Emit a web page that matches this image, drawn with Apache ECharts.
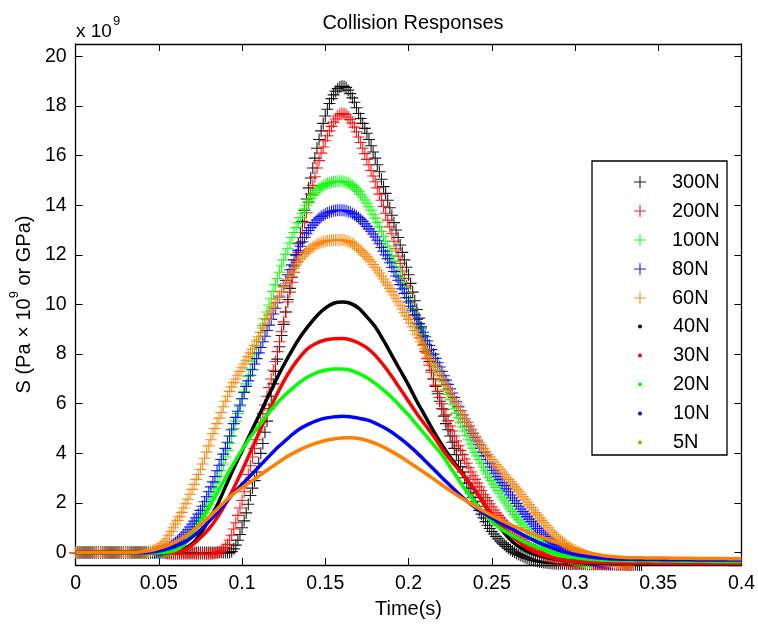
<!DOCTYPE html>
<html><head><meta charset="utf-8">
<script src="https://cdn.jsdelivr.net/npm/echarts@6/dist/echarts.min.js"></script>
<style>html,body{margin:0;padding:0;background:#fff}#c{width:758px;height:624px}</style>
</head><body><div id="c"></div>
<script>
// time samples (s) for the "+" series: 0 ... 0.34 every 0.00125 s
const tPlus = [0,0.00125,0.0025,0.00375,0.005,0.00625,0.0075,0.00875,0.01,0.01125,0.0125,0.01375,0.015,0.01625,0.0175,0.01875,0.02,0.02125,0.0225,0.02375,0.025,0.02625,0.0275,0.02875,0.03,0.03125,0.0325,0.03375,0.035,0.03625,0.0375,0.03875,0.04,0.04125,0.0425,0.04375,0.045,0.04625,0.0475,0.04875,0.05,0.05125,0.0525,0.05375,0.055,0.05625,0.0575,0.05875,0.06,0.06125,0.0625,0.06375,0.065,0.06625,0.0675,0.06875,0.07,0.07125,0.0725,0.07375,0.075,0.07625,0.0775,0.07875,0.08,0.08125,0.0825,0.08375,0.085,0.08625,0.0875,0.08875,0.09,0.09125,0.0925,0.09375,0.095,0.09625,0.0975,0.09875,0.1,0.10125,0.1025,0.10375,0.105,0.10625,0.1075,0.10875,0.11,0.11125,0.1125,0.11375,0.115,0.11625,0.1175,0.11875,0.12,0.12125,0.1225,0.12375,0.125,0.12625,0.1275,0.12875,0.13,0.13125,0.1325,0.13375,0.135,0.13625,0.1375,0.13875,0.14,0.14125,0.1425,0.14375,0.145,0.14625,0.1475,0.14875,0.15,0.15125,0.1525,0.15375,0.155,0.15625,0.1575,0.15875,0.16,0.16125,0.1625,0.16375,0.165,0.16625,0.1675,0.16875,0.17,0.17125,0.1725,0.17375,0.175,0.17625,0.1775,0.17875,0.18,0.18125,0.1825,0.18375,0.185,0.18625,0.1875,0.18875,0.19,0.19125,0.1925,0.19375,0.195,0.19625,0.1975,0.19875,0.2,0.20125,0.2025,0.20375,0.205,0.20625,0.2075,0.20875,0.21,0.21125,0.2125,0.21375,0.215,0.21625,0.2175,0.21875,0.22,0.22125,0.2225,0.22375,0.225,0.22625,0.2275,0.22875,0.23,0.23125,0.2325,0.23375,0.235,0.23625,0.2375,0.23875,0.24,0.24125,0.2425,0.24375,0.245,0.24625,0.2475,0.24875,0.25,0.25125,0.2525,0.25375,0.255,0.25625,0.2575,0.25875,0.26,0.26125,0.2625,0.26375,0.265,0.26625,0.2675,0.26875,0.27,0.27125,0.2725,0.27375,0.275,0.27625,0.2775,0.27875,0.28,0.28125,0.2825,0.28375,0.285,0.28625,0.2875,0.28875,0.29,0.29125,0.2925,0.29375,0.295,0.29625,0.2975,0.29875,0.3,0.30125,0.3025,0.30375,0.305,0.30625,0.3075,0.30875,0.31,0.31125,0.3125,0.31375,0.315,0.31625,0.3175,0.31875,0.32,0.32125,0.3225,0.32375,0.325,0.32625,0.3275,0.32875,0.33,0.33125,0.3325,0.33375,0.335,0.33625,0.3375,0.33875,0.34];
// time samples (s) for the "." series: 0 ... 0.4 every 0.005 s
const tDot = [0,0.005,0.01,0.015,0.02,0.025,0.03,0.035,0.04,0.045,0.05,0.055,0.06,0.065,0.07,0.075,0.08,0.085,0.09,0.095,0.1,0.105,0.11,0.115,0.12,0.125,0.13,0.135,0.14,0.145,0.15,0.155,0.16,0.165,0.17,0.175,0.18,0.185,0.19,0.195,0.2,0.205,0.21,0.215,0.22,0.225,0.23,0.235,0.24,0.245,0.25,0.255,0.26,0.265,0.27,0.275,0.28,0.285,0.29,0.295,0.3,0.305,0.31,0.315,0.32,0.325,0.33,0.335,0.34,0.345,0.35,0.355,0.36,0.365,0.37,0.375,0.38,0.385,0.39,0.395,0.4];

// stress (x 1e9 Pa), "+" series on tPlus
const s300N = [0,0,0,0,0,0,0,0,0,0, 0,0,0,0,0,0,0,0,0,0, 0,0,0,0,0,0,0,0,0,0, 0,0,0,0,0,0,0,0,0,0,
 0,0,0,0,0,0,0,0,0,0, 0,0,0,0,0,0,0,0,0,0, 0,0,0,0,0,0,0,0,0,0, 0,0,0,0,0,
 0.04,0.15,
 0.3,0.5,0.73,1.0,1.28,1.6,1.95,2.3,2.6,2.9,3.25,3.6,4.0,4.4,4.85,5.3,5.8,6.3,6.8,7.3,
 7.8,8.3,8.75,9.2,9.7,10.2,10.65,11.1,11.55,12.0,12.45,12.9,13.35,13.8,14.25,14.7,15.1,15.5,15.9,16.3,
 16.65,17.0,17.3,17.6,17.87,18.1,18.3,18.45,18.6,18.7,18.77,18.8,
 18.79,18.75,18.64,18.5,18.33,18.15,17.93,17.7,17.5,17.3,17.1,16.9,16.65,16.4,16.15,15.9,15.63,15.35,15.05,14.75,
 14.48,14.2,13.9,13.6,13.3,13.0,12.7,12.4,12.1,11.8,11.5,11.2,10.85,10.5,10.15,9.8,9.45,9.1,8.75,8.4,
 8.05,7.7,7.35,7.0,6.7,6.4,6.1,5.8,5.5,5.2,4.95,4.7,4.45,4.2,3.95,3.7,3.47,3.25,3.02,2.8,
 2.6,2.4,2.22,2.05,1.87,1.7,1.55,1.4,1.25,1.1,0.97,0.85,0.75,0.65,0.56,0.47,0.39,0.32,0.25,0.18,
 0.12,0.06,0.01,-0.04,-0.08,-0.12,-0.16,-0.2,-0.23,-0.26,-0.29,-0.31,-0.33,-0.35,-0.37,-0.38,-0.4,-0.41,-0.42,-0.43,
 -0.44,-0.44,
 -0.45,-0.45,-0.45,-0.45,-0.45,-0.45,-0.46,-0.46,-0.46,-0.46,-0.46,-0.46,-0.46,-0.46,
 -0.47,-0.47,-0.47,-0.47,-0.47,-0.47,-0.47,-0.47,-0.47,-0.47,-0.48,-0.48,-0.48,-0.48,-0.48,-0.48,-0.48,-0.48,-0.48,-0.48,
 -0.49,-0.49,-0.49,-0.49,-0.49,-0.49,-0.5,-0.5];
const s200N = [0,0,0,0,0,0,0,0,0,0, 0,0,0,0,0,0,0,0,0,0, 0,0,0,0,0,0,0,0,0,0, 0,0,0,0,0,0,0,0,0,0, 0,0,0,
 -0.02,
 -0.05,-0.05,-0.05,-0.05,-0.05,-0.05,-0.05,-0.05,-0.05,-0.05,-0.05,-0.05,-0.05,-0.05,-0.05,-0.05,-0.05,-0.05,-0.05,-0.05,-0.05,-0.05,-0.05,
 -0.03,0.0,
 0.02,0.05,0.11,0.2,0.33,0.5,0.7,0.95,1.2,1.5,1.8,2.1,2.45,2.8,3.15,3.5,3.85,4.2,4.55,4.9,
 5.25,5.6,5.95,6.3,6.65,7.0,7.35,7.7,8.1,8.5,8.9,9.3,9.7,10.1,10.5,10.9,11.3,11.7,12.1,12.5,
 12.9,13.3,13.7,14.1,14.45,14.8,15.15,15.5,15.8,16.1,16.35,16.6,16.8,17.0,17.18,17.35,17.48,17.6,17.67,17.7,
 17.69,17.65,17.56,17.45,17.31,17.15,16.96,16.75,16.53,16.3,16.08,15.85,15.63,15.4,15.18,14.95,14.7,14.45,14.2,13.95,
 13.68,13.4,13.13,12.85,12.55,12.25,11.95,11.65,11.35,11.05,10.75,10.45,10.15,9.85,9.55,9.25,8.95,8.65,8.37,8.1,
 7.82,7.55,7.27,7.0,6.75,6.5,6.25,6.0,5.77,5.55,5.32,5.1,4.9,4.7,4.5,4.3,4.12,3.95,3.77,3.6,
 3.42,3.25,3.1,2.95,2.8,2.65,2.5,2.35,2.22,2.1,1.97,1.85,1.72,1.6,1.5,1.4,1.3,1.2,1.1,1.0,
 0.91,0.83,0.75,0.67,0.6,0.52,0.45,0.38,0.32,0.26,0.2,0.15,0.1,0.05,0.0,-0.04,-0.08,-0.12,-0.16,-0.19,
 -0.22,-0.25,-0.28,-0.3,-0.32,-0.34,-0.36,-0.37,-0.39,-0.4,-0.41,-0.42,
 -0.43,-0.43,-0.44,-0.44,-0.45,-0.45,-0.45,-0.45,-0.46,-0.46,-0.46,-0.46,-0.47,-0.47,-0.47,-0.47,-0.47,-0.47,
 -0.48,-0.48,-0.48,-0.48,-0.48,-0.48,-0.49,-0.49,-0.49,-0.49];
const s100N = [0,0,0,0,0,0,0,0,0,0, 0,0,0,0,0,0,0,0,0,0, 0,0,0,0,0,0,0,0,0,0, 0,0,0,0,0,0,0,0,0,0, 0,
 0.01,0.02,0.04,0.06,0.09,0.12,0.16,0.2,0.26,0.32,0.39,0.46,0.54,0.62,0.72,0.82,0.93,1.05,1.17,1.3,
 1.45,1.6,1.77,1.95,2.15,2.35,2.57,2.8,3.05,3.3,3.57,3.85,4.12,4.4,4.7,5.0,5.3,5.6,5.9,6.2,
 6.5,6.8,7.1,7.4,7.7,8.0,8.3,8.6,8.88,9.15,9.43,9.7,9.98,10.25,10.53,10.8,11.05,11.3,11.55,11.8,
 12.03,12.25,12.48,12.7,12.9,13.1,13.3,13.5,13.68,13.85,14.0,14.15,14.28,14.4,14.5,14.6,14.68,14.75,14.8,14.85,
 14.88,14.9,14.93,14.95,14.96,14.97,14.97,14.97,
 14.95,14.93,14.9,14.85,14.79,14.72,14.64,14.55,14.44,14.33,14.21,14.08,13.94,13.8,13.64,13.48,13.31,13.13,12.94,12.75,
 12.55,12.35,12.15,11.95,11.74,11.52,11.31,11.1,10.89,10.68,10.47,10.25,10.04,9.82,9.61,9.4,9.19,8.98,8.77,8.56,
 8.35,8.15,7.95,7.75,7.55,7.35,7.15,6.95,6.75,6.56,6.37,6.18,5.99,5.8,5.61,5.43,5.25,5.07,4.9,4.72,
 4.55,4.38,4.21,4.05,3.9,3.75,3.6,3.45,3.31,3.17,3.03,2.9,2.76,2.63,2.5,2.37,2.24,2.12,2.0,1.88,
 1.76,1.65,1.54,1.43,1.32,1.22,1.12,1.02,0.93,0.84,0.75,0.67,0.59,0.52,0.45,0.38,0.31,0.25,0.19,0.14,
 0.09,0.04,0.0,-0.05,-0.09,-0.13,-0.17,-0.2,-0.23,-0.26,-0.29,-0.31,-0.33,-0.35,-0.37,-0.39,-0.41,-0.42,-0.43,-0.44];
const s80N = [0,0,0,0,0,0,0,0,0,0, 0,0,0,0,0,0,0,0,0,0, 0,0,0,0,0,0,0,0,0,0, 0,0,0,0,0,0,0,0,0,
 0.02,0.05,
 0.07,0.1,0.14,0.18,0.23,0.28,0.34,0.4,0.47,0.55,0.63,0.72,0.82,0.92,1.03,1.15,1.27,1.4,1.55,1.7,
 1.87,2.05,2.25,2.45,2.65,2.85,3.07,3.3,3.52,3.75,3.97,4.2,4.45,4.7,4.95,5.2,5.45,5.7,5.95,6.2,
 6.45,6.7,6.92,7.15,7.37,7.6,7.82,8.05,8.27,8.5,8.72,8.95,9.17,9.4,9.62,9.85,10.07,10.3,10.52,10.75,
 10.97,11.2,11.4,11.6,11.8,12.0,12.18,12.35,12.53,12.7,12.85,12.98,13.1,13.2,13.3,13.4,13.48,13.55,13.6,13.65,
 13.69,13.72,13.75,13.78,13.79,13.8,13.8,13.8,
 13.79,13.78,13.75,13.72,13.67,13.62,13.56,13.5,13.43,13.35,13.25,13.15,13.05,12.95,12.84,12.72,12.59,12.45,12.3,12.15,
 12.0,11.85,11.68,11.5,11.33,11.15,10.98,10.8,10.63,10.45,10.28,10.1,9.93,9.75,9.58,9.4,9.23,9.05,8.88,8.7,
 8.53,8.35,8.18,8.0,7.83,7.65,7.48,7.3,7.13,6.95,6.78,6.6,6.43,6.25,6.08,5.9,5.72,5.55,5.4,5.25,
 5.1,4.95,4.8,4.65,4.5,4.35,4.2,4.05,3.9,3.75,3.6,3.45,3.32,3.2,3.07,2.95,2.82,2.7,2.57,2.45,
 2.32,2.2,2.09,1.98,1.87,1.76,1.65,1.55,1.45,1.35,1.25,1.15,1.06,0.97,0.88,0.8,0.72,0.65,0.57,0.5,
 0.44,0.38,0.32,0.27,0.22,0.17,0.12,0.08,0.04,0.0,-0.04,-0.08,-0.11,-0.15,-0.18,-0.21,-0.24,-0.26,-0.29,-0.31,
 -0.33,-0.35,-0.37,-0.38,-0.4,-0.41,-0.42,-0.43,-0.44,-0.45];
const s60N = [0,0,0,0,0,0,0,0,0,0, 0,0,0,0,0,0,0,0,0,0, 0,0,0,0,0,0,0,0,0,0, 0,0,0,0,0,
 0.02,0.05,
 0.07,0.1,0.15,0.2,0.27,0.35,0.45,0.55,0.7,0.85,1.0,1.15,1.3,1.45,1.62,1.8,1.97,2.15,2.35,2.55,
 2.75,2.95,3.15,3.35,3.57,3.8,4.05,4.3,4.55,4.8,5.0,5.2,5.42,5.65,5.88,6.1,6.3,6.5,6.68,6.85,
 7.0,7.15,7.3,7.45,7.6,7.75,7.9,8.05,8.2,8.35,8.52,8.7,8.87,9.05,9.22,9.4,9.57,9.75,9.9,10.05,
 10.2,10.35,10.52,10.7,10.85,11.0,11.15,11.3,11.45,11.6,11.73,11.85,11.95,12.05,12.13,12.2,12.26,12.32,12.37,12.42,
 12.46,12.5,12.53,12.55,12.57,12.58,12.59,12.6,12.6,12.6,12.6,12.6,
 12.59,12.57,12.54,12.5,12.45,12.4,12.33,12.25,12.18,12.1,12.01,11.92,11.82,11.72,11.61,11.5,11.39,11.27,11.15,11.03,
 10.9,10.78,10.65,10.52,10.38,10.25,10.11,9.97,9.82,9.68,9.54,9.4,9.25,9.1,8.95,8.8,8.65,8.5,8.35,8.2,
 8.05,7.9,7.75,7.6,7.46,7.32,7.17,7.03,6.88,6.74,6.6,6.45,6.3,6.15,6.0,5.85,5.7,5.55,5.4,5.25,
 5.11,4.97,4.83,4.7,4.57,4.45,4.32,4.2,4.08,3.96,3.85,3.75,3.65,3.55,3.45,3.35,3.25,3.15,3.05,2.95,
 2.85,2.75,2.65,2.55,2.45,2.35,2.25,2.15,2.04,1.93,1.82,1.72,1.61,1.51,1.4,1.3,1.2,1.1,1.0,0.9,
 0.81,0.72,0.64,0.56,0.49,0.42,0.36,0.3,0.24,0.19,0.14,0.1,0.05,0.01,-0.03,-0.07,-0.1,-0.14,-0.17,-0.2,
 -0.22,-0.25,-0.27,-0.29,-0.31,-0.33,-0.34,-0.36,-0.37,-0.39,-0.4,-0.41,-0.42,-0.43,-0.44,-0.45,-0.46,-0.47,-0.47,-0.48];

// "." series on tDot
const s40N = [0,0,0,0,0,0,0,0,0,0, 0,0,
 0.05,0.15,0.35,0.75,1.3,1.9,2.65,3.4,
 4.1,4.8,5.5,6.2,6.9,7.55,8.15,8.7,9.15,9.55,
 9.85,10.05,10.1,10.05,9.85,9.5,9.1,8.55,7.95,7.35,
 6.75,6.1,5.5,4.9,4.35,3.85,3.4,2.95,2.5,2.0,
 1.45,1.0,0.6,0.3,0.1,-0.05,-0.15,-0.22,-0.28,-0.33,
 -0.37,-0.4,-0.42,
 -0.43,-0.43,-0.44,-0.44,-0.44,-0.45,-0.45,-0.45,-0.46,-0.46,-0.46,-0.46,-0.47,-0.47,-0.47,-0.47,-0.48,-0.48];
const s30N = [0,0,0,0,0,0,0,0,0,0, 0,0,
 0.02,0.1,0.3,0.6,0.95,1.4,1.95,2.6,
 3.3,4.05,4.8,5.55,6.25,6.9,7.45,7.9,8.25,8.45,
 8.57,8.62,8.63,8.58,8.45,8.25,7.95,7.55,7.1,6.6,
 6.1,5.6,5.15,4.7,4.2,3.75,3.35,2.95,2.5,2.0,
 1.55,1.15,0.8,0.5,0.25,0.05,-0.08,-0.18,-0.26,-0.32,
 -0.36,-0.39,-0.4,
 -0.41,-0.41,-0.41,-0.42,-0.42,-0.42,-0.42,-0.43,-0.43,-0.43,-0.43,-0.43,-0.44,-0.44,-0.44,-0.44,-0.44,-0.44];
const s20N = [0,0,0,0,0,0,0,0,0,0, 0,
 0.02,0.1,0.3,0.75,1.25,1.8,2.4,3.0,3.6,
 4.15,4.65,5.1,5.55,5.95,6.3,6.6,6.88,7.1,7.25,
 7.35,7.4,7.4,7.35,7.22,7.05,6.82,6.55,6.25,5.9,
 5.55,5.15,4.75,4.35,3.95,3.45,2.95,2.45,2.0,1.6,
 1.25,0.98,0.78,0.6,0.42,0.28,0.15,0.04,-0.06,-0.14,
 -0.2,-0.25,-0.28,
 -0.3,-0.31,-0.32,-0.32,-0.33,-0.33,-0.33,-0.34,-0.34,-0.34,-0.35,-0.35,-0.35,-0.35,-0.36,-0.36,-0.36,-0.36];
const s10N = [0,0,0,0,0,0,0,0,0,
 0.02,0.06,0.14,0.25,0.4,0.62,0.9,1.25,1.6,2.0,2.4,
 2.75,3.1,3.45,3.8,4.15,4.45,4.75,5.0,5.18,5.32,
 5.42,5.47,5.5,5.48,5.42,5.35,5.22,5.05,4.85,4.6,
 4.33,4.03,3.7,3.37,3.03,2.7,2.38,2.08,1.82,1.6,
 1.4,1.22,1.03,0.85,0.67,0.5,0.35,0.22,0.1,0.0,
 -0.08,-0.14,-0.19,-0.22,-0.25,
 -0.26,-0.27,-0.27,-0.28,-0.28,-0.28,-0.29,-0.29,-0.29,-0.29,-0.3,-0.3,-0.3,-0.3,-0.3,-0.3];
const s5N = [0,0,0,0,0,0,0,0,
 0.03,0.08,0.17,0.28,0.43,0.62,0.85,1.12,1.42,1.75,2.08,2.38,
 2.62,2.85,3.08,3.32,3.55,3.78,3.98,4.15,4.3,4.42,
 4.52,4.58,4.62,4.63,4.6,4.52,4.4,4.25,4.07,3.87,
 3.65,3.43,3.2,2.97,2.73,2.5,2.28,2.07,1.87,1.68,
 1.5,1.33,1.17,1.02,0.88,0.75,0.62,0.5,0.38,0.27,
 0.16,0.06,-0.03,-0.1,-0.15,-0.18,-0.2,
 -0.21,-0.21,-0.22,-0.22,-0.22,-0.23,-0.23,-0.23,-0.24,-0.24,-0.24,-0.24,-0.25,-0.25];

const plusNames = ['300N','200N','100N','80N','60N'];
const dotNames = ['40N','30N','20N','10N','5N'];
const colors = ['#000000','#ff0000','#00ff00','#0000ff','#ff8000'];
const yTicks = [0,2,4,6,8,10,12,14,16,18,20];

const plusData = [s300N, s200N, s100N, s80N, s60N];
const dotData = [s40N, s30N, s20N, s10N, s5N];
const FONT = "'Liberation Sans', Arial, Helvetica, sans-serif";
const PLUS = 'path://M5,0H6V5H11V6H6V11H5V6H0V5H5Z';

function pairs(ts, vs) {
  const out = [];
  for (let i = 0; i < vs.length && i < ts.length; i++) out.push([ts[i], vs[i]]);
  return out;
}

const series = [];
plusNames.forEach((n, k) => series.push({
  type: 'scatter', name: n,
  data: pairs(tPlus, plusData[k]),
  symbol: PLUS, symbolSize: 12,
  itemStyle: { color: colors[k], opacity: 0.9 },
  clip: false, silent: true, animation: false, large: false
}));
dotNames.forEach((n, k) => series.push({
  type: 'line', name: n,
  data: pairs(tDot, dotData[k]),
  showSymbol: false, symbol: 'circle', smooth: 0.25,
  lineStyle: { color: colors[k], width: 3.5 },
  itemStyle: { color: colors[k] },
  silent: true, animation: false
}));

const axisLine = { show: true, onZero: false, lineStyle: { color: '#000', width: 1.3 } };
const tick = { show: true, inside: true, length: 7, lineStyle: { color: '#000', width: 1 } };

const chart = echarts.init(document.getElementById('c'), null, { renderer: 'canvas' });
chart.setOption({
  animation: false,
  backgroundColor: '#fff',
  title: [
    { text: 'Collision Responses', left: 408, top: 8, textAlign: 'center',
      textStyle: { fontFamily: FONT, fontSize: 20, fontWeight: 'normal', color: '#000' } },
    { text: '{a|x 10}{s|9}', left: 71, top: 10,
      textStyle: { fontWeight: 'normal', rich: {
        a: { fontFamily: FONT, fontSize: 19, fontWeight: 'normal', color: '#000', lineHeight: 26, verticalAlign: 'bottom' },
        s: { fontFamily: FONT, fontSize: 13, fontWeight: 'normal', color: '#000', lineHeight: 26, verticalAlign: 'top', padding: [0,0,0,1] } } } }
  ],
  grid: { left: 75, right: 15.5, top: 44, bottom: 53.5, containLabel: false },
  xAxis: [
    { type: 'value', position: 'bottom', min: 0, max: 0.4, interval: 0.05,
      axisLine: axisLine, axisTick: tick, splitLine: { show: false },
      axisLabel: { fontFamily: FONT, fontSize: 19.5, color: '#000', margin: 9 },
      name: 'Time(s)', nameLocation: 'middle', nameGap: 34,
      nameTextStyle: { fontFamily: FONT, fontSize: 20, color: '#000' } },
    { type: 'value', position: 'top', min: 0, max: 0.4, interval: 0.05,
      axisLine: axisLine, axisTick: tick, splitLine: { show: false }, axisLabel: { show: false } }
  ],
  yAxis: [
    { type: 'value', position: 'left', min: -0.5, max: 20.5,
      axisLine: axisLine, axisTick: Object.assign({}, tick, { customValues: yTicks }),
      splitLine: { show: false },
      axisLabel: { customValues: yTicks, fontFamily: FONT, fontSize: 19.5, color: '#000', margin: 9 },
      name: '{a|S (Pa × 10}{s|9}{a| or GPa)}', nameLocation: 'middle', nameRotate: 90, nameGap: 33,
      nameTextStyle: { rich: {
        a: { fontFamily: FONT, fontSize: 20, color: '#000', lineHeight: 26, verticalAlign: 'bottom' },
        s: { fontFamily: FONT, fontSize: 13, color: '#000', lineHeight: 26, verticalAlign: 'top' } } } },
    { type: 'value', position: 'right', min: -0.5, max: 20.5,
      axisLine: axisLine, axisTick: Object.assign({}, tick, { customValues: yTicks }),
      splitLine: { show: false }, axisLabel: { show: false, customValues: yTicks } }
  ],
  legend: [
    { data: plusNames.map(n => ({ name: n, icon: PLUS })), orient: 'vertical',
      left: 629, top: 167, itemWidth: 12, itemHeight: 12, itemGap: 9, selectedMode: false,
      textStyle: { fontFamily: FONT, fontSize: 20, color: '#000', lineHeight: 20, padding: [0, 0, 0, 21] } },
    { data: dotNames.map(n => ({ name: n, icon: 'circle' })), orient: 'vertical',
      left: 633, top: 311.5, itemWidth: 4, itemHeight: 4, itemGap: 9, selectedMode: false,
      textStyle: { fontFamily: FONT, fontSize: 20, color: '#000', lineHeight: 20, padding: [0, 0, 0, 26] } }
  ],
  graphic: [
    { type: 'rect', z: 3, shape: { x: 592, y: 161, width: 135, height: 294 },
      style: { fill: '#fff', stroke: '#000', lineWidth: 1.3 } }
  ],
  series: series
});
</script></body></html>
